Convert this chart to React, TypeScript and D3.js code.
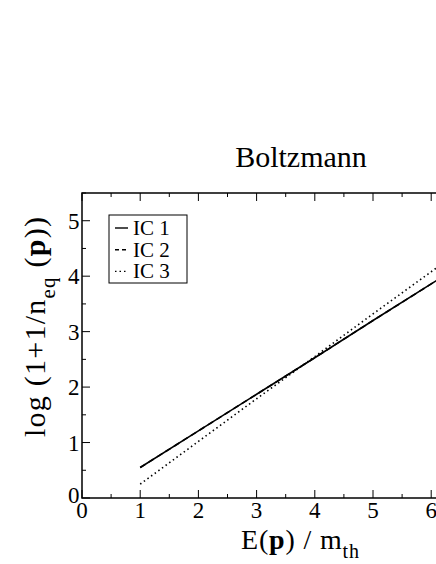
import React, { useEffect, useRef } from "react";
import * as d3 from "d3";

const energy = [1, 2, 3, 4, 5, 6, 7];
const ic1 = [0.55, 1.21, 1.87, 2.53, 3.2, 3.86, 4.52];
const ic2 = [0.55, 1.21, 1.87, 2.53, 3.2, 3.86, 4.52];
const ic3 = [0.25, 1.02, 1.79, 2.55, 3.32, 4.08, 4.85];
const seriesNames = ["IC 1", "IC 2", "IC 3"];
const xTicks = [0, 1, 2, 3, 4, 5, 6];
const yTicks = [0, 1, 2, 3, 4, 5];

const FONT = "Liberation Serif, Times New Roman, Times, DejaVu Serif, serif";

const App = () => {
  const ref = useRef<SVGSVGElement>(null);

  useEffect(() => {
    const svg = d3.select(ref.current);
    svg.selectAll("*").remove();

    const left = 82;
    const top = 193;
    const bottom = 498;
    const x = d3.scaleLinear().domain([0, 7]).range([left, left + 7 * 58.2]);
    const y = d3.scaleLinear().domain([0, 5.5]).range([bottom, top]);

    // frame
    svg
      .append("rect")
      .attr("x", x(0))
      .attr("y", y(5.5))
      .attr("width", x(7) - x(0))
      .attr("height", y(0) - y(5.5))
      .attr("fill", "none")
      .attr("stroke", "#000")
      .attr("stroke-width", 1.5);

    // ticks (inward, on all sides)
    const xMinor = d3.range(0, 7.01, 0.5);
    const yMinor = d3.range(0, 5.51, 0.5);
    const tk = svg.append("g").attr("stroke", "#000").attr("stroke-width", 1);
    xMinor.forEach((v) => {
      const len = Number.isInteger(v) ? 8 : 4;
      tk.append("line").attr("x1", x(v)).attr("x2", x(v)).attr("y1", y(0)).attr("y2", y(0) - len);
      tk.append("line").attr("x1", x(v)).attr("x2", x(v)).attr("y1", y(5.5)).attr("y2", y(5.5) + len);
    });
    yMinor.forEach((v) => {
      const len = Number.isInteger(v) ? 8 : 4;
      tk.append("line").attr("x1", x(0)).attr("x2", x(0) + len).attr("y1", y(v)).attr("y2", y(v));
    });

    // tick labels
    svg
      .append("g")
      .selectAll("text")
      .data(xTicks)
      .enter()
      .append("text")
      .attr("x", (d) => x(d))
      .attr("y", 518)
      .attr("text-anchor", "middle")
      .attr("font-family", FONT)
      .attr("font-size", 23)
      .text((d) => d);

    svg
      .append("g")
      .selectAll("text")
      .data(yTicks)
      .enter()
      .append("text")
      .attr("x", 79.5)
      .attr("y", (d) => y(d) + (d === 0 ? 5 : 8))
      .attr("text-anchor", "end")
      .attr("font-family", FONT)
      .attr("font-size", 23)
      .text((d) => d);

    // lines
    const series = [ic1, ic2, ic3];
    const dashes = [null, "6,4", "1.5,3"];
    const line = d3
      .line<number>()
      .x((d, i) => x(energy[i]))
      .y((d) => y(d));
    series.forEach((s, i) => {
      svg
        .append("path")
        .datum(s)
        .attr("d", line)
        .attr("fill", "none")
        .attr("stroke", "#000")
        .attr("stroke-width", 1.6)
        .attr("stroke-dasharray", dashes[i]);
    });

    // legend
    const lg = svg.append("g");
    lg.append("rect")
      .attr("x", 109)
      .attr("y", 215)
      .attr("width", 78)
      .attr("height", 68)
      .attr("fill", "#fff")
      .attr("stroke", "#000")
      .attr("stroke-width", 1);
    seriesNames.forEach((name, i) => {
      const ry = 228 + i * 21.7;
      lg.append("line")
        .attr("x1", 115)
        .attr("x2", 128)
        .attr("y1", ry)
        .attr("y2", ry)
        .attr("stroke", "#000")
        .attr("stroke-width", 1.4)
        .attr("stroke-dasharray", i === 1 ? "4,3" : dashes[i]);
      lg.append("text")
        .attr("x", 133)
        .attr("y", ry + 7)
        .attr("font-family", FONT)
        .attr("font-size", 21)
        .text(name);
    });

    // title
    svg
      .append("text")
      .attr("x", 301)
      .attr("y", 167)
      .attr("text-anchor", "middle")
      .attr("font-family", FONT)
      .attr("font-size", 30)
      .text("Boltzmann");

    // x axis title
    const xt = svg
      .append("text")
      .attr("x", 300)
      .attr("y", 549)
      .attr("text-anchor", "middle")
      .attr("font-family", FONT)
      .attr("font-size", 28)
      .attr("textLength", 118)
      .attr("lengthAdjust", "spacing");
    xt.append("tspan").text("E(");
    xt.append("tspan").attr("font-weight", "bold").text("p");
    xt.append("tspan").text(") / m");
    xt.append("tspan").attr("dy", 9).attr("font-size", 20).text("th");

    // y axis title
    const yt = svg
      .append("text")
      .attr("transform", "translate(45, 327) rotate(-90)")
      .attr("text-anchor", "middle")
      .attr("textLength", 220)
      .attr("lengthAdjust", "spacing")
      .attr("font-family", FONT)
      .attr("font-size", 30);
    yt.append("tspan").text("log (1+1/n");
    yt.append("tspan").attr("dy", 10).attr("font-size", 21).text("eq");
    yt.append("tspan").attr("dy", -10).text(" (");
    yt.append("tspan").attr("font-weight", "bold").text("p");
    yt.append("tspan").text("))");
  }, []);

  return (
    <svg
      ref={ref}
      width={436}
      height={564}
      style={{ position: "absolute", left: 0, top: 0, background: "#fff" }}
    />
  );
};

export default App;
